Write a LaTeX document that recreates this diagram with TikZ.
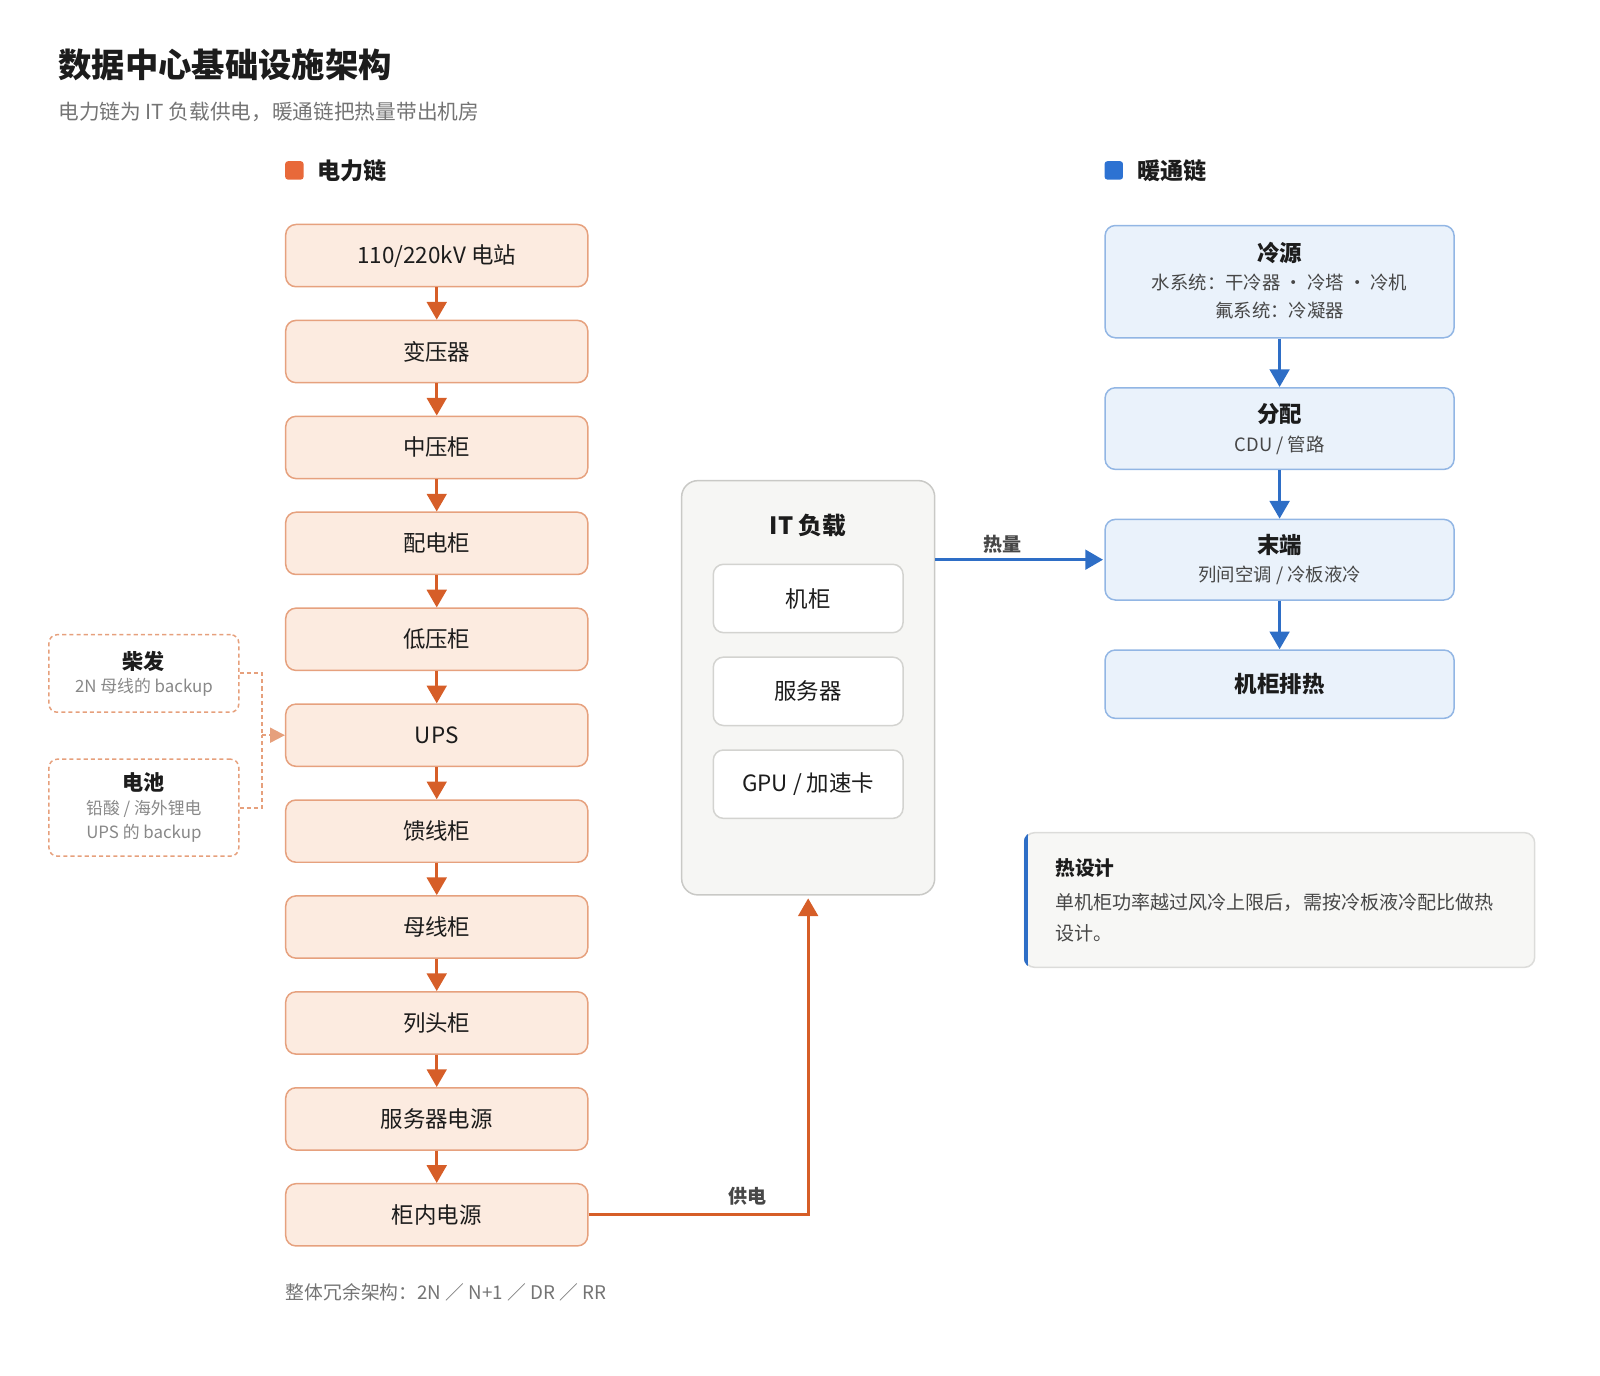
\documentclass[tikz,border=0pt]{standalone}
\usepackage{fontspec}
\setmainfont{Noto Sans CJK SC}
\usetikzlibrary{arrows.meta}
\newcommand\fsz[2]{\fontsize{#1pt}{#2pt}\selectfont}
\definecolor{pfill}{HTML}{FCEBE0}
\definecolor{pborder}{HTML}{E6A17E}
\definecolor{parr}{HTML}{D65E28}
\definecolor{plegend}{HTML}{E8693A}
\definecolor{pdash}{HTML}{E6A07C}
\definecolor{hfill}{HTML}{EAF2FB}
\definecolor{hborder}{HTML}{92B6E4}
\definecolor{harr}{HTML}{2E6EC6}
\definecolor{hlegend}{HTML}{2D72D2}
\definecolor{gfill}{HTML}{F6F6F4}
\definecolor{gborder}{HTML}{C9C9C6}
\definecolor{iborder}{HTML}{D3D3D0}
\definecolor{nfill}{HTML}{F7F7F5}
\definecolor{nborder}{HTML}{DCDCDA}
\definecolor{tdark}{HTML}{1C1C1C}
\definecolor{tmid}{HTML}{474747}
\definecolor{tgray}{HTML}{747474}
\definecolor{tlight}{HTML}{888888}
\begin{document}
\begin{tikzpicture}[x=0.75pt,y=-0.75pt,
  pbox/.style={draw=pborder, fill=pfill, line width=1.1pt, rounded corners=7.5pt,
    minimum width=222pt, minimum height=45.75pt, inner sep=0pt, text=tdark, font=\fsz{16.5}{20}},
  sidebox/.style={draw=pdash, dash pattern=on 3pt off 2.25pt, line width=1.1pt,
    rounded corners=6pt, minimum width=139.5pt, inner sep=0pt},
  sidetitle/.style={inner sep=0pt, text=tdark, font=\fsz{15.5}{18}\bfseries},
  sidesub/.style={inner sep=0pt, text=tlight, font=\fsz{12.4}{15}},
  itbox/.style={draw=gborder, fill=gfill, line width=1.1pt, rounded corners=12pt,
    minimum width=186pt, minimum height=304.5pt, inner sep=0pt},
  inbox/.style={draw=iborder, fill=white, line width=1.1pt, rounded corners=7.5pt,
    minimum width=139.5pt, minimum height=50.25pt, inner sep=0pt, text=tdark, font=\fsz{16.5}{20}},
  hbox/.style={draw=hborder, fill=hfill, line width=1.1pt, rounded corners=7.5pt,
    minimum width=256.5pt, inner sep=0pt},
  htitle/.style={inner sep=0pt, text=tdark, font=\fsz{16.5}{20}\bfseries},
  hsub/.style={inner sep=0pt, text=tmid, font=\fsz{13.5}{16}},
  parrow/.style={draw=parr, line width=2pt, -{Triangle[length=13pt,width=14.5pt]}},
  harrow/.style={draw=harr, line width=2pt, -{Triangle[length=13pt,width=14.5pt]}},
  dashline/.style={draw=pdash, line width=1.5pt, dash pattern=on 3pt off 2.25pt},
  elabel/.style={inner sep=0pt, text=tmid, font=\fsz{14}{17}\bfseries},
  legsq/.style={rounded corners=2pt, minimum size=13.5pt, inner sep=0pt},
  legtext/.style={anchor=west, inner sep=0pt, text=tdark, font=\fsz{17}{20}\bfseries}
]
\useasboundingbox (0,0) rectangle (1568,1348);

% title
\node[anchor=west, inner sep=0pt, text=tdark, font=\fsz{24.5}{28}\bfseries] (title) at (57,64) {数据中心基础设施架构};
\node[anchor=west, inner sep=0pt, text=tgray, font=\fsz{15.2}{18}] (subtitle) at (57,110) {电力链为 IT 负载供电，暖通链把热量带出机房};

% legends
\node[legsq, fill=plegend] (legp) at (288.5,167) {};
\node[legtext] (legpt) at (311,167) {电力链};
\node[legsq, fill=hlegend] (legh) at (1091.5,167) {};
\node[legtext] (leght) at (1114,167) {暖通链};

% power chain
\node[pbox] (p1) at (428,250.5) {110/220kV 电站};
\node[pbox] (p2) at (428,344.5) {变压器};
\node[pbox] (p3) at (428,438.5) {中压柜};
\node[pbox] (p4) at (428,532.5) {配电柜};
\node[pbox] (p5) at (428,626.5) {低压柜};
\node[pbox] (p6) at (428,720.5) {UPS};
\node[pbox] (p7) at (428,814.5) {馈线柜};
\node[pbox] (p8) at (428,908.5) {母线柜};
\node[pbox] (p9) at (428,1002.5) {列头柜};
\node[pbox] (p10) at (428,1096.5) {服务器电源};
\node[pbox] (p11) at (428,1190.5) {柜内电源};
\foreach \a/\b in {p1/p2,p2/p3,p3/p4,p4/p5,p5/p6,p6/p7,p7/p8,p8/p9,p9/p10,p10/p11}
  \draw[parrow] (\a.south) -- (\b.north);

% side backups
\node[sidebox, minimum height=57pt] (chai) at (141,660) {};
\node[sidetitle] (chait) at (141,648) {柴发};
\node[sidesub] (chais) at (141,674) {2N 母线的 backup};
\node[sidebox, minimum height=71.25pt] (batt) at (141,791.5) {};
\node[sidetitle] (battt) at (141,767) {电池};
\node[sidesub] (batts1) at (141,793) {铅酸 / 海外锂电};
\node[sidesub] (batts2) at (141,817) {UPS 的 backup};
\coordinate (j) at (257,720.5);
\draw[dashline] (chai.east) -| (j);
\draw[dashline] (batt.east) -| (j);
\draw[dashline, -{Triangle[length=11pt,width=11pt]}] (j) -- (p6.west);

% IT load
\node[itbox] (it) at (792,674) {};
\node[inner sep=0pt, text=tdark, font=\fsz{17.5}{20}\bfseries] (itt) at (792,515) {IT 负载};
\node[inbox] (rack) at (792,586.5) {机柜};
\node[inbox] (srv) at (792,677.5) {服务器};
\node[inbox] (gpu) at (792,768.5) {GPU / 加速卡};

% supply
\draw[parrow, shorten >=2pt] (p11.east) -| (it.south);
\node[elabel] (supl) at (733,1172) {供电};

% HVAC chain
\node[hbox, minimum height=82.5pt] (cold) at (1254,276) {};
\node[htitle] (coldt) at (1254,248) {冷源};
\node[hsub] (colds1) at (1254,277) {水系统：干冷器 · 冷塔 · 冷机};
\node[hsub] (colds2) at (1254,304) {氟系统：冷凝器};
\node[hbox, minimum height=60pt] (dist) at (1254,420) {};
\node[htitle] (distt) at (1254,405.5) {分配};
\node[hsub] (dists) at (1254,436) {CDU / 管路};
\node[hbox, minimum height=59.25pt] (term) at (1254,548.5) {};
\node[htitle] (termt) at (1254,534.5) {末端};
\node[hsub] (terms) at (1254,564) {列间空调 / 冷板液冷};
\node[hbox, minimum height=50.25pt, font=\fsz{16.5}{20}\bfseries, text=tdark] (exh) at (1254,670.5) {机柜排热};
\draw[harrow] (cold.south) -- (dist.north);
\draw[harrow] (dist.south) -- (term.north);
\draw[harrow] (term.south) -- (exh.north);

% heat
\draw[harrow, shorten >=1pt] (it.east |- term.west) -- (term.west);
\node[elabel] (heatl) at (982,533) {热量};

% note
\node[draw=nborder, fill=nfill, line width=1.1pt, rounded corners=7.5pt,
  minimum width=375pt, minimum height=99pt, inner sep=0pt] (note) at (1254,882) {};
\begin{scope}
  \clip[rounded corners=7.5pt] (note.south west) rectangle (note.north east);
  \fill[harr] (note.south west) rectangle ([xshift=3pt]note.north west);
\end{scope}
\node[anchor=west, inner sep=0pt, text=tdark, font=\fsz{14.5}{18}\bfseries] (notet) at (1034,851) {热设计};
\node[anchor=west, inner sep=0pt, text=tmid, font=\fsz{14}{17}] (noteb1) at (1034,884.5) {单机柜功率越过风冷上限后，需按冷板液冷配比做热};
\node[anchor=west, inner sep=0pt, text=tmid, font=\fsz{14}{17}] (noteb2) at (1034,914.5) {设计。};

% footer
\node[anchor=west, inner sep=0pt, text=tgray, font=\fsz{13.8}{16}] (foot) at (280,1266) {整体冗余架构：2N ／ N+1 ／ DR ／ RR};
\end{tikzpicture}
\end{document}
